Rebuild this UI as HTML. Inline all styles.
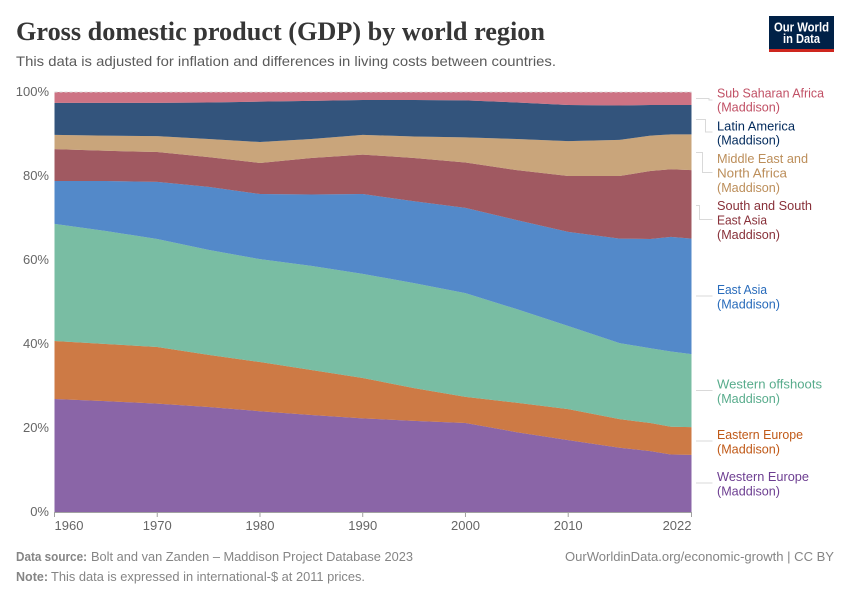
<!DOCTYPE html>
<html lang="en">
<head>
<meta charset="utf-8">
<title>Gross domestic product (GDP) by world region</title>
<style>
html,body{margin:0;padding:0;background:#fff;}
svg{display:block;font-family:"Liberation Sans",sans-serif;}
.lab{font-size:12.6px;}
.tick{font-size:13px;fill:#666;}
.foot{font-size:12.6px;fill:#858585;}
</style>
</head>
<body>
<svg id="chart" width="850" height="600" viewBox="0 0 850 600" xmlns="http://www.w3.org/2000/svg">
  <rect x="0" y="0" width="850" height="600" fill="#fff"/>
  <text x="16" y="40" font-family="'Liberation Serif',serif" font-weight="700" font-size="26" fill="#363636" textLength="529" lengthAdjust="spacingAndGlyphs">Gross domestic product (GDP) by world region</text>
  <text x="16" y="66" font-size="14" fill="#5b5b5b" textLength="540" lengthAdjust="spacingAndGlyphs">This data is adjusted for inflation and differences in living costs between countries.</text>

  <g>
    <rect x="769" y="16" width="65" height="36" fill="#002147"/>
    <rect x="769" y="49" width="65" height="3" fill="#ce261e"/>
    <text x="801.5" y="31.5" text-anchor="middle" font-size="12.5" font-weight="700" fill="#fff" textLength="55" lengthAdjust="spacingAndGlyphs">Our World</text>
    <text x="801.5" y="43" text-anchor="middle" font-size="12.5" font-weight="700" fill="#fff" textLength="37" lengthAdjust="spacingAndGlyphs">in Data</text>
  </g>

  <g id="areas"></g>
  <g id="grid"></g>
  <g id="axes"></g>

  <g fill="none" stroke="#d9d9d9" stroke-width="1">
    <path d="M696 98.5H709V100H712.5"/>
    <path d="M696 119.5H705.5V132H712.5"/>
    <path d="M696 152.5H702.5V172.5H712.5"/>
    <path d="M696 205.5H699.5V219.5H712.5"/>
    <path d="M696 296H712.5"/>
    <path d="M696 390.5H712.5"/>
    <path d="M696 441H712.5"/>
    <path d="M696 483H712.5"/>
  </g>

  <g class="lab" fill="#c15065">
    <text x="717" y="97.5" textLength="107" lengthAdjust="spacingAndGlyphs">Sub Saharan Africa</text>
    <text x="717" y="111.5" textLength="63" lengthAdjust="spacingAndGlyphs">(Maddison)</text>
  </g>
  <g class="lab" fill="#00295b">
    <text x="717" y="130.5" textLength="78" lengthAdjust="spacingAndGlyphs">Latin America</text>
    <text x="717" y="144.5" textLength="63" lengthAdjust="spacingAndGlyphs">(Maddison)</text>
  </g>
  <g class="lab" fill="#bc8e5a">
    <text x="717" y="163" textLength="91" lengthAdjust="spacingAndGlyphs">Middle East and</text>
    <text x="717" y="177.5" textLength="70" lengthAdjust="spacingAndGlyphs">North Africa</text>
    <text x="717" y="192" textLength="63" lengthAdjust="spacingAndGlyphs">(Maddison)</text>
  </g>
  <g class="lab" fill="#883039">
    <text x="717" y="210" textLength="95" lengthAdjust="spacingAndGlyphs">South and South</text>
    <text x="717" y="224.5" textLength="50" lengthAdjust="spacingAndGlyphs">East Asia</text>
    <text x="717" y="239" textLength="63" lengthAdjust="spacingAndGlyphs">(Maddison)</text>
  </g>
  <g class="lab" fill="#286bbb">
    <text x="717" y="294" textLength="50" lengthAdjust="spacingAndGlyphs">East Asia</text>
    <text x="717" y="308.5" textLength="63" lengthAdjust="spacingAndGlyphs">(Maddison)</text>
  </g>
  <g class="lab" fill="#58ac8c">
    <text x="717" y="388.5" textLength="105" lengthAdjust="spacingAndGlyphs">Western offshoots</text>
    <text x="717" y="403" textLength="63" lengthAdjust="spacingAndGlyphs">(Maddison)</text>
  </g>
  <g class="lab" fill="#c05917">
    <text x="717" y="439" textLength="86" lengthAdjust="spacingAndGlyphs">Eastern Europe</text>
    <text x="717" y="453.5" textLength="63" lengthAdjust="spacingAndGlyphs">(Maddison)</text>
  </g>
  <g class="lab" fill="#6d3e91">
    <text x="717" y="481" textLength="92" lengthAdjust="spacingAndGlyphs">Western Europe</text>
    <text x="717" y="495.5" textLength="63" lengthAdjust="spacingAndGlyphs">(Maddison)</text>
  </g>

  <g>
    <text class="foot" x="16" y="561" font-weight="700" textLength="71" lengthAdjust="spacingAndGlyphs">Data source:</text>
    <text class="foot" x="91" y="561" textLength="322" lengthAdjust="spacingAndGlyphs">Bolt and van Zanden – Maddison Project Database 2023</text>
  </g>
  <g>
    <text class="foot" x="16" y="581" font-weight="700" textLength="32" lengthAdjust="spacingAndGlyphs">Note:</text>
    <text class="foot" x="51" y="581" textLength="314" lengthAdjust="spacingAndGlyphs">This data is expressed in international-$ at 2011 prices.</text>
  </g>
  <text class="foot" x="565" y="561" textLength="269" lengthAdjust="spacingAndGlyphs">OurWorldinData.org/economic-growth | CC BY</text>
</svg>

<script>
const years = [1960,1965,1970,1975,1980,1985,1990,1995,2000,2005,2010,2015,2018,2020,2022];
const westernEurope = [26.9,26.4,25.8,25,24,23.1,22.3,21.7,21.2,19,17.1,15.3,14.5,13.7,13.6];
const easternEurope = [13.8,13.6,13.5,12.4,11.7,10.7,9.6,7.8,6.2,7,7.4,6.8,6.7,6.6,6.6];
const westernOffshoots = [27.9,26.9,25.7,25,24.5,24.8,24.8,25,24.7,22.3,19.8,18.1,17.8,17.9,17.4];
const eastAsia = [10.2,11.9,13.6,15,15.5,17,19,19.5,20.3,21.2,22.4,24.9,26,27.3,27.5];
const southAsia = [7.6,7.2,7.1,7.1,7.4,8.7,9.4,10.3,10.8,11.9,13.3,14.9,16.2,16.1,16.3];
const middleEast = [3.4,3.6,3.8,4.3,5,4.5,4.7,5.1,6,7.4,8.3,8.6,8.4,8.3,8.5];
const latinAmerica = [7.6,7.8,7.9,8.7,9.6,9.1,8.3,8.7,8.8,8.7,8.6,8.2,7.3,7,7];
const subSaharanAfrica = [2.6,2.6,2.6,2.5,2.3,2.1,1.9,1.9,2,2.5,3.1,3.2,3.1,3.1,3.1];
const xTicks = [1960,1970,1980,1990,2000,2010,2022];
const yTicks = [0,20,40,60,80,100];

const seriesList = [
  {id:'western-europe', values:westernEurope, color:'#6d3e91'},
  {id:'eastern-europe', values:easternEurope, color:'#c05917'},
  {id:'western-offshoots', values:westernOffshoots, color:'#58ac8c'},
  {id:'east-asia', values:eastAsia, color:'#286bbb'},
  {id:'south-asia', values:southAsia, color:'#883039'},
  {id:'middle-east', values:middleEast, color:'#bc8e5a'},
  {id:'latin-america', values:latinAmerica, color:'#00295b'},
  {id:'sub-saharan-africa', values:subSaharanAfrica, color:'#c15065'}
];

const NS = 'http://www.w3.org/2000/svg';
const left = 54.5, right = 691.5, top_ = 92, bottom = 512;
function xScale(year){ return left + (year - years[0]) / (years[years.length-1] - years[0]) * (right - left); }
function yScale(pct){ return bottom - pct / 100 * (bottom - top_); }

const gridLayer = document.getElementById('grid');
const topGrid = document.createElementNS(NS,'line');


topGrid.setAttribute('x1', left);
topGrid.setAttribute('x2', right);
topGrid.setAttribute('y1', yScale(100));
topGrid.setAttribute('y2', yScale(100));
topGrid.setAttribute('stroke', '#ddd');
topGrid.setAttribute('stroke-dasharray', '3,2');
gridLayer.appendChild(topGrid);

const areaLayer = document.getElementById('areas');
const totals = years.map(function(_, i){
  return seriesList.reduce(function(s, r){ return s + r.values[i]; }, 0);
});
const base = years.map(function(){ return 0; });
seriesList.forEach(function(series){
  const lower = base.slice();
  const upper = lower.map(function(v, i){ return v + series.values[i] / totals[i] * 100; });
  let d = '';
  years.forEach(function(y, i){ d += (i ? 'L' : 'M') + xScale(y).toFixed(2) + ' ' + yScale(upper[i]).toFixed(2); });
  for (let i = years.length - 1; i >= 0; i--) { d += 'L' + xScale(years[i]).toFixed(2) + ' ' + yScale(lower[i]).toFixed(2); }
  d += 'Z';
  const path = document.createElementNS(NS,'path');
  
  
  path.setAttribute('d', d);
  path.setAttribute('fill', series.color);
  path.setAttribute('fill-opacity', '0.8');
  areaLayer.appendChild(path);
  upper.forEach(function(v, i){ base[i] = v; });
});

const axisLayer = document.getElementById('axes');
const baseline = document.createElementNS(NS,'line');


baseline.setAttribute('x1', left); baseline.setAttribute('x2', right);
baseline.setAttribute('y1', bottom + 0.5); baseline.setAttribute('y2', bottom + 0.5);
baseline.setAttribute('stroke', '#a1a1a1');
axisLayer.appendChild(baseline);

yTicks.forEach(function(t){
  const label = document.createElementNS(NS,'text');
  
  
  label.setAttribute('class', 'tick');
  label.setAttribute('x', 49);
  label.setAttribute('y', yScale(t) + 4);
  label.setAttribute('text-anchor', 'end');
  label.textContent = t + '%';
  axisLayer.appendChild(label);
});

xTicks.forEach(function(t, i){
  const mark = document.createElementNS(NS,'line');
  
  
  mark.setAttribute('x1', xScale(t)); mark.setAttribute('x2', xScale(t));
  mark.setAttribute('y1', bottom); mark.setAttribute('y2', bottom + 5);
  mark.setAttribute('stroke', '#a1a1a1');
  axisLayer.appendChild(mark);
  const label = document.createElementNS(NS,'text');
  
  
  label.setAttribute('class', 'tick');
  label.setAttribute('x', xScale(t));
  label.setAttribute('y', 530);
  label.setAttribute('text-anchor', i === 0 ? 'start' : (i === xTicks.length - 1 ? 'end' : 'middle'));
  label.textContent = String(t);
  axisLayer.appendChild(label);
});
</script>
</body>
</html>
